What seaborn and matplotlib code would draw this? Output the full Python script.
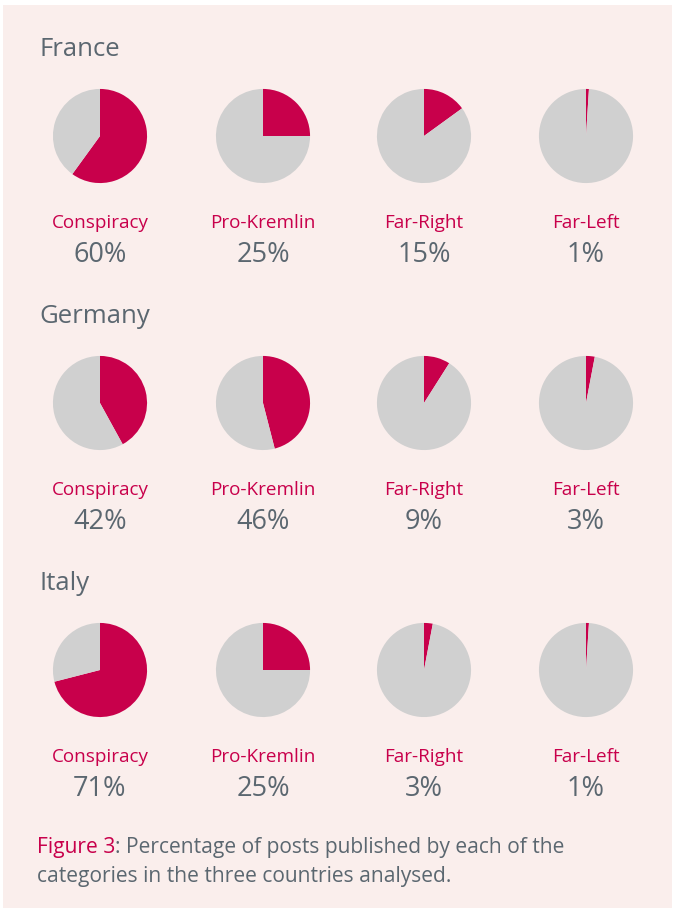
import matplotlib
matplotlib.use("Agg")
import matplotlib.pyplot as plt
from matplotlib.patches import Rectangle
import seaborn as sns

# Data
countries = ["France", "Germany", "Italy"]
categories = ["Conspiracy", "Pro-Kremlin", "Far-Right", "Far-Left"]
france = [60, 25, 15, 1]
germany = [42, 46, 9, 3]
italy = [71, 25, 3, 1]
shares = [france, germany, italy]

sns.set_theme(style="white")
plt.rcParams["font.family"] = ["Open Sans", "DejaVu Sans"]

red = "#C8004B"
grey = "#D0D0D0"
text_grey = "#5B6770"
bg = "#FAEEEC"

W, H = 676, 913
fig = plt.figure(figsize=(W / 100, H / 100), dpi=100)
fig.patch.set_facecolor("white")
fig.patches.append(Rectangle((3 / W, 5 / H), 669 / W, 903 / H, transform=fig.transFigure,
                             facecolor=bg, edgecolor="none", zorder=-1))

col_x = [100, 263, 424, 586]
title_y = [49, 316, 583]
pie_d = 96

for r, country in enumerate(countries):
    ty = title_y[r]
    fig.text(39 / W, 1 - ty / H, country, fontsize=18.5, color=text_grey, va="center", ha="left")
    cy = ty + 87
    for c, cat in enumerate(categories):
        cx = col_x[c]
        ax = fig.add_axes([(cx - pie_d / 2) / W, 1 - (cy + pie_d / 2) / H, pie_d / W, pie_d / H])
        v = shares[r][c]
        ax.pie([v, 100 - v], colors=[red, grey], startangle=90, counterclock=False,
               wedgeprops=dict(linewidth=0))
        ax.set_xlim(-1.02, 1.02)
        ax.set_ylim(-1.02, 1.02)
        ax.set_aspect("equal")
        ax.axis("off")
        fig.text(cx / W, 1 - (cy + 87) / H, cat, fontsize=13.6, color=red, ha="center", va="center")
        fig.text(cx / W, 1 - (cy + 119) / H, f"{v}%", fontsize=19.5, color=text_grey,
                 ha="center", va="center")

# caption: red "Figure 3" followed by grey text
fig.canvas.draw()
lead = fig.text(37 / W, 1 - 847 / H, "Figure 3", fontsize=15.1, color=red, ha="left", va="center")
bb = lead.get_window_extent(renderer=fig.canvas.get_renderer())
fig.text(bb.x1 / W, 1 - 847 / H, ": Percentage of posts published by each of the",
         fontsize=15.1, color=text_grey, ha="left", va="center")
fig.text(37 / W, 1 - 876 / H, "categories in the three countries analysed.", fontsize=15.1,
         color=text_grey, ha="left", va="center")

fig.savefig("out.png", dpi=100, facecolor=fig.get_facecolor())
